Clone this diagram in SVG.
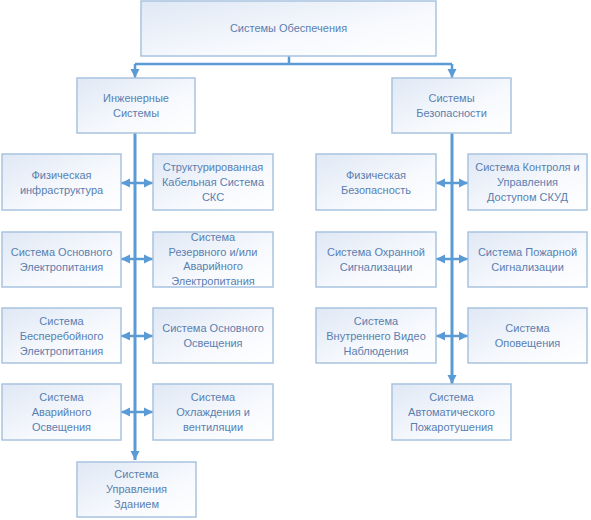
<svg xmlns="http://www.w3.org/2000/svg" width="591" height="520" viewBox="0 0 591 520">
<defs>
<linearGradient id="bg" x1="0" y1="0" x2="1" y2="1">
<stop offset="0" stop-color="#dfe8f5"/>
<stop offset="0.6" stop-color="#f7f9fd"/>
<stop offset="1" stop-color="#ffffff"/>
</linearGradient>
<marker id="ah" viewBox="0 0 10 10" markerUnits="userSpaceOnUse" markerWidth="9" markerHeight="10" refX="10" refY="5" orient="auto-start-reverse">
<path d="M0,0 L10,5 L0,10 z" fill="#5b9bd5"/>
</marker>
</defs>
<style>
.box{fill:url(#bg);stroke:#a9c3df;stroke-width:1.5}
.t{font-family:"Liberation Sans",Arial,sans-serif;font-size:11px;fill:#5a7fb0;text-anchor:middle}
.c{stroke:#5b9bd5;fill:none}
</style>
<rect width="591" height="520" fill="#ffffff"/>
<g id="connectors">
<path class="c" stroke-width="2.5" d="M289,56 V64 M135,64 H452"/>
<path class="c" stroke-width="2.5" d="M135,64 V78" marker-end="url(#ah)"/>
<path class="c" stroke-width="2.5" d="M452,64 V78" marker-end="url(#ah)"/>
<path class="c" stroke-width="3" d="M135,133 V460" marker-end="url(#ah)"/>
<path class="c" stroke-width="3" d="M452,133 V384" marker-end="url(#ah)"/>
<path class="c" stroke-width="2.5" d="M121,183 H153" marker-start="url(#ah)" marker-end="url(#ah)"/>
<path class="c" stroke-width="2.5" d="M121,259 H153" marker-start="url(#ah)" marker-end="url(#ah)"/>
<path class="c" stroke-width="2.5" d="M121,336 H153" marker-start="url(#ah)" marker-end="url(#ah)"/>
<path class="c" stroke-width="2.5" d="M121,412 H153" marker-start="url(#ah)" marker-end="url(#ah)"/>
<path class="c" stroke-width="2.5" d="M436,183 H468" marker-start="url(#ah)" marker-end="url(#ah)"/>
<path class="c" stroke-width="2.5" d="M436,259 H468" marker-start="url(#ah)" marker-end="url(#ah)"/>
<path class="c" stroke-width="2.5" d="M436,336 H468" marker-start="url(#ah)" marker-end="url(#ah)"/>
</g>
<g id="root"><rect class="box" x="141" y="1" width="295" height="55"/><text class="t" x="288.5" y="32">Системы Обеспечения</text></g>
<g id="eng"><rect class="box" x="77" y="78" width="118" height="55"/><text class="t" x="136" y="102">Инженерные</text><text class="t" x="136" y="117">Системы</text></g>
<g id="sec"><rect class="box" x="392" y="78" width="119" height="55"/><text class="t" x="451.5" y="102">Системы</text><text class="t" x="451.5" y="117">Безопасности</text></g>

<g id="l1"><rect class="box" x="2" y="154" width="119" height="56"/><text class="t" x="61.5" y="179">Физическая</text><text class="t" x="61.5" y="194">инфраструктура</text></g>
<g id="r1"><rect class="box" x="153" y="154" width="120" height="56"/><text class="t" x="213" y="171">Структурированная</text><text class="t" x="213" y="186">Кабельная Система</text><text class="t" x="213" y="201">СКС</text></g>
<g id="l2"><rect class="box" x="2" y="232" width="119" height="55"/><text class="t" x="61.5" y="256">Система Основного</text><text class="t" x="61.5" y="271">Электропитания</text></g>
<g id="r2"><rect class="box" x="153" y="232" width="120" height="55"/><text class="t" x="213" y="241">Система</text><text class="t" x="213" y="255.5">Резервного и/или</text><text class="t" x="213" y="270">Аварийного</text><text class="t" x="213" y="285">Электропитания</text></g>
<g id="l3"><rect class="box" x="2" y="308" width="119" height="55"/><text class="t" x="61.5" y="325">Система</text><text class="t" x="61.5" y="340">Бесперебойного</text><text class="t" x="61.5" y="355">Электропитания</text></g>
<g id="r3"><rect class="box" x="153" y="308" width="120" height="55"/><text class="t" x="213" y="332">Система Основного</text><text class="t" x="213" y="347">Освещения</text></g>
<g id="l4"><rect class="box" x="2" y="384" width="119" height="56"/><text class="t" x="61.5" y="401">Система</text><text class="t" x="61.5" y="416">Аварийного</text><text class="t" x="61.5" y="431">Освещения</text></g>
<g id="r4"><rect class="box" x="153" y="384" width="120" height="56"/><text class="t" x="213" y="401">Система</text><text class="t" x="213" y="416">Охлаждения и</text><text class="t" x="213" y="431">вентиляции</text></g>
<g id="l5"><rect class="box" x="77" y="462" width="119" height="55"/><text class="t" x="136.5" y="478">Система</text><text class="t" x="136.5" y="493">Управления</text><text class="t" x="136.5" y="508">Зданием</text></g>

<g id="sl1"><rect class="box" x="316" y="154" width="120" height="56"/><text class="t" x="376" y="179">Физическая</text><text class="t" x="376" y="194">Безопасность</text></g>
<g id="sr1"><rect class="box" x="468" y="154" width="119" height="56"/><text class="t" x="527.5" y="171">Система Контроля и</text><text class="t" x="527.5" y="186">Управления</text><text class="t" x="527.5" y="201">Доступом СКУД</text></g>
<g id="sl2"><rect class="box" x="316" y="232" width="120" height="55"/><text class="t" x="376" y="256">Система Охранной</text><text class="t" x="376" y="271">Сигнализации</text></g>
<g id="sr2"><rect class="box" x="468" y="232" width="119" height="55"/><text class="t" x="527.5" y="256">Система Пожарной</text><text class="t" x="527.5" y="271">Сигнализации</text></g>
<g id="sl3"><rect class="box" x="316" y="308" width="120" height="55"/><text class="t" x="376" y="325">Система</text><text class="t" x="376" y="340">Внутреннего Видео</text><text class="t" x="376" y="355">Наблюдения</text></g>
<g id="sr3"><rect class="box" x="468" y="308" width="119" height="55"/><text class="t" x="527.5" y="332">Система</text><text class="t" x="527.5" y="347">Оповещения</text></g>
<g id="sb"><rect class="box" x="392" y="384" width="119" height="56"/><text class="t" x="451.5" y="401">Система</text><text class="t" x="451.5" y="416">Автоматического</text><text class="t" x="451.5" y="431">Пожаротушения</text></g>
</svg>
